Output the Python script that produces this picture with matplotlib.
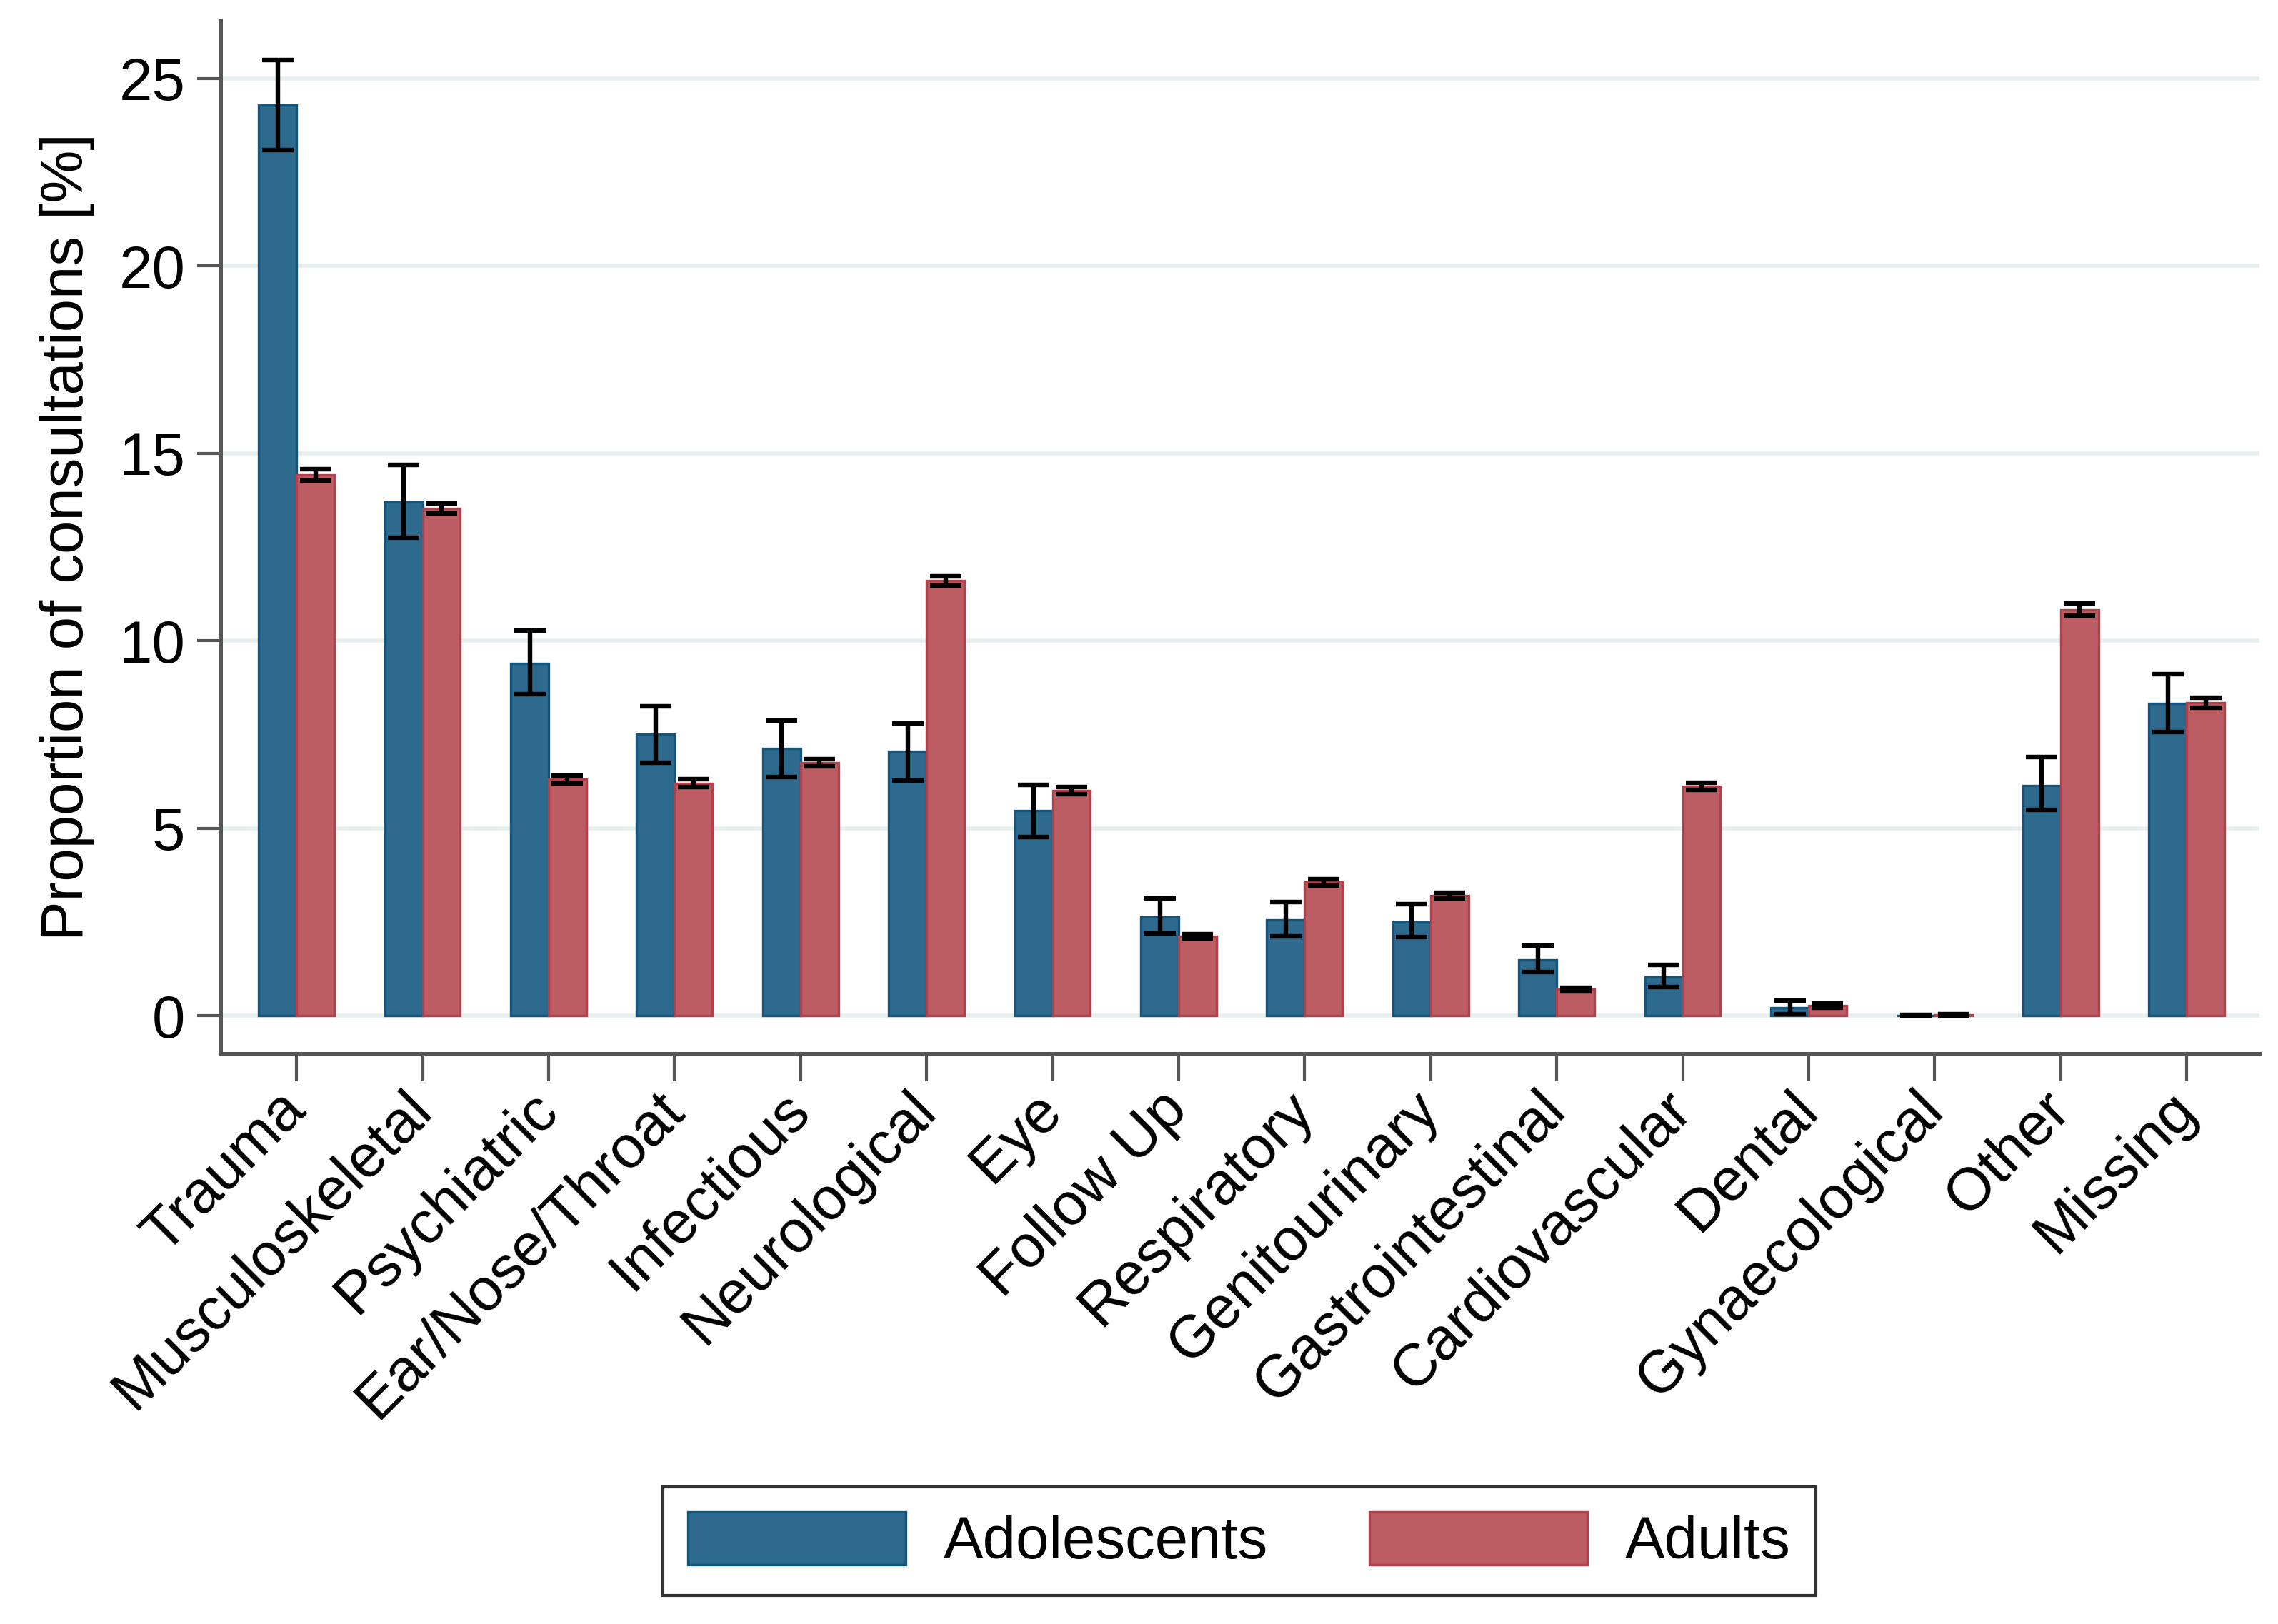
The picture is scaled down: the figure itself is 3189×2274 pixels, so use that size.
import numpy as np
import matplotlib
matplotlib.use('Agg')
from matplotlib import pyplot as plt

plt.rcParams['font.family'] = ['Liberation Sans', 'DejaVu Sans']

categories = ['Trauma', 'Musculoskeletal', 'Psychiatric', 'Ear/Nose/Throat', 'Infectious',
              'Neurological', 'Eye', 'Follow Up', 'Respiratory', 'Genitourinary',
              'Gastrointestinal', 'Cardiovascular', 'Dental', 'Gynaecological', 'Other', 'Missing']

# adolescents: value, lower CI, upper CI
adol = [24.3, 13.7, 9.4, 7.5, 7.13, 7.05, 5.47, 2.64, 2.55, 2.5, 1.49, 1.04, 0.22, 0.01, 6.14, 8.33]
adol_lo = [23.1, 12.75, 8.57, 6.74, 6.36, 6.28, 4.77, 2.2, 2.12, 2.09, 1.16, 0.77, 0.05, 0.0, 5.49, 7.57]
adol_hi = [25.5, 14.7, 10.27, 8.26, 7.87, 7.79, 6.16, 3.13, 3.03, 2.98, 1.87, 1.36, 0.41, 0.02, 6.89, 9.11]

# adults
adult = [14.42, 13.53, 6.3, 6.2, 6.75, 11.6, 6.0, 2.12, 3.56, 3.2, 0.7, 6.12, 0.27, 0.02, 10.83, 8.35]
adult_lo = [14.27, 13.4, 6.2, 6.1, 6.65, 11.48, 5.9, 2.06, 3.48, 3.12, 0.65, 6.02, 0.22, 0.0, 10.68, 8.22]
adult_hi = [14.57, 13.66, 6.4, 6.3, 6.85, 11.72, 6.1, 2.18, 3.64, 3.28, 0.75, 6.22, 0.32, 0.04, 10.99, 8.49]

yticks = [0, 5, 10, 15, 20, 25]

blue = '#2e6a8e'
blue_edge = '#14557e'
red = '#bb5d62'
red_edge = '#b0414c'

x = np.arange(len(categories))
w = 0.3
fs = 30

fig = plt.figure(figsize=(15.945, 11.37), dpi=200)
ax = fig.add_axes([0.097, 0.3515, 0.895, 0.636])

# grid lines
for v in yticks:
    ax.axhline(v, color='#e6f0f0', lw=2, zorder=0)

ax.bar(x - w/2, adol, w, color=blue, edgecolor=blue_edge, lw=1.2, label='Adolescents', zorder=2)
ax.bar(x + w/2, adult, w, color=red, edgecolor=red_edge, lw=1.2, label='Adults', zorder=2)

a = np.array(adol); al = np.array(adol_lo); ah = np.array(adol_hi)
b = np.array(adult); bl = np.array(adult_lo); bh = np.array(adult_hi)
ax.errorbar(x - w/2, a, yerr=[a - al, ah - a], fmt='none', ecolor='black', elinewidth=2.3,
            capsize=8, capthick=2.3, zorder=3)
ax.errorbar(x + w/2, b, yerr=[b - bl, bh - b], fmt='none', ecolor='black', elinewidth=2.3,
            capsize=8, capthick=2.3, zorder=3)

ax.set_xlim(-0.6, 15.58)
ax.set_ylim(-1.0, 26.55)
ax.set_yticks(yticks)
ax.set_xticks(x)
ax.set_xticklabels(categories, rotation=45, ha='right', va='center',
                   rotation_mode='anchor', fontsize=fs)
ax.tick_params(axis='y', labelsize=fs, length=12, width=1.5, color='#555555', pad=6)
ax.tick_params(axis='x', length=14, width=1.5, color='#555555', pad=10)
ax.set_ylabel('Proportion of consultations [%]', fontsize=fs, labelpad=12)

for s in ['top', 'right']:
    ax.spines[s].set_visible(False)
for s in ['left', 'bottom']:
    ax.spines[s].set_color('#555555')
    ax.spines[s].set_linewidth(1.8)

leg = fig.legend(loc='center', bbox_to_anchor=(0.544, 0.051), ncol=2, fontsize=fs,
                 frameon=True, fancybox=False, handlelength=3.66, handleheight=1.0,
                 columnspacing=1.7, handletextpad=0.64, borderpad=0.42)
leg.get_frame().set_edgecolor('black')
leg.get_frame().set_linewidth(1.5)

fig.savefig('out.png', dpi=200)
